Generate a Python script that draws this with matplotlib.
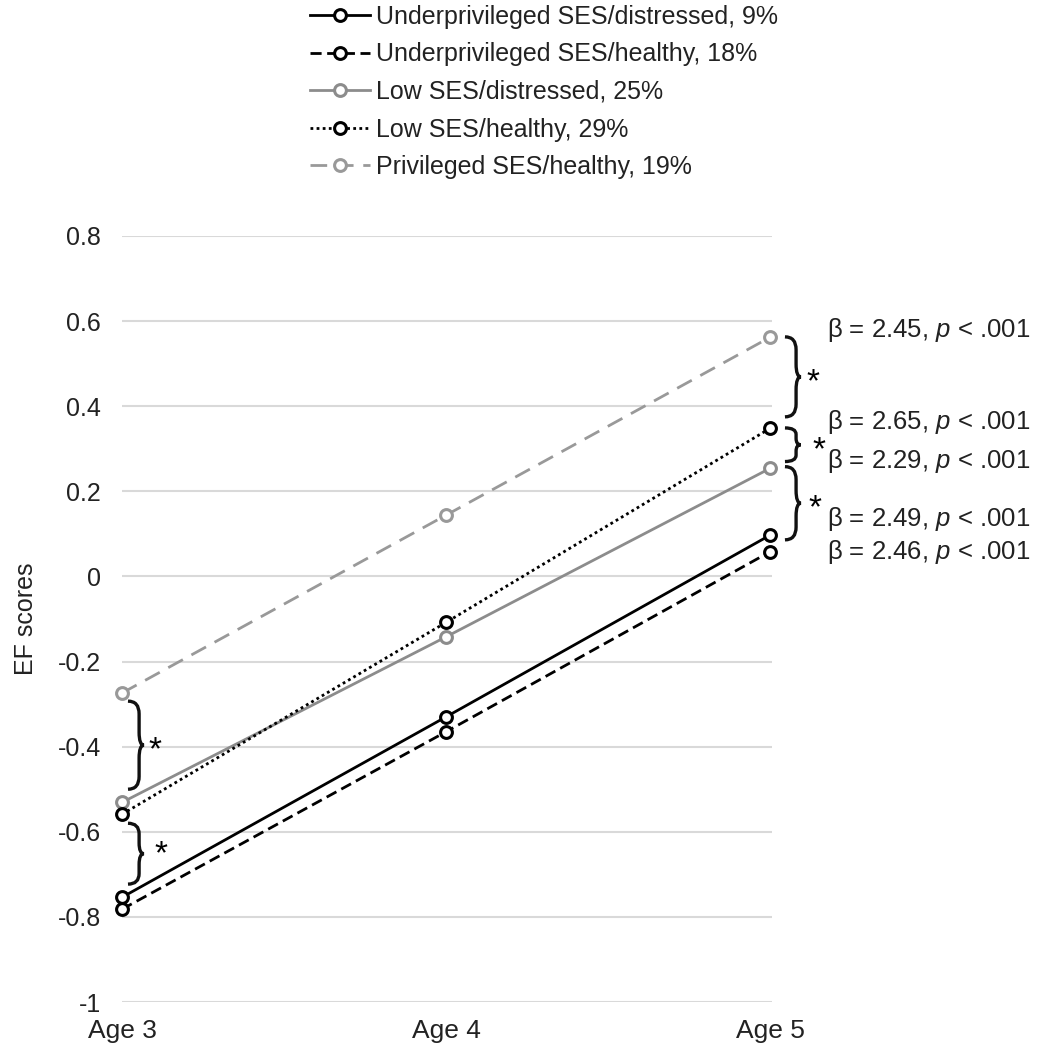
"""EF scores by SES/distress group across ages 3-5."""
import matplotlib
matplotlib.use("Agg")
import matplotlib.pyplot as plt
from matplotlib.path import Path
from matplotlib.patches import PathPatch

plt.rcParams["font.family"] = ["Liberation Sans", "DejaVu Sans"]
plt.rcParams["mathtext.fontset"] = "custom"
plt.rcParams["mathtext.rm"] = "Liberation Sans"
plt.rcParams["mathtext.it"] = "Liberation Sans:italic"

# Data
ages = ["Age 3", "Age 4", "Age 5"]
groups = [
    "Underprivileged SES/distressed, 9%",
    "Underprivileged SES/healthy, 18%",
    "Low SES/distressed, 25%",
    "Low SES/healthy, 29%",
    "Privileged SES/healthy, 19%",
]
under_distressed = [-0.754, -0.330, 0.097]
under_healthy = [-0.782, -0.365, 0.058]
low_distressed = [-0.531, -0.142, 0.254]
low_healthy = [-0.559, -0.108, 0.348]
privileged = [-0.274, 0.144, 0.562]

betas = ["2.45", "2.65", "2.29", "2.49", "2.46"]
beta_y = [0.58, 0.362, 0.271, 0.134, 0.058]

# styles
styles = [
    dict(color="black", ls="-"),
    dict(color="black", ls=(0, (4, 2))),
    dict(color="#8c8c8c", ls="-"),
    dict(color="black", ls=(0, (1, 1.2))),
    dict(color="#999999", ls=(0, (6, 3.5))),
]
series = [under_distressed, under_healthy, low_distressed, low_healthy, privileged]

fig = plt.figure(figsize=(10.39, 10.5), dpi=100)
ax = fig.add_axes([122 / 1039, 1 - 1002 / 1050, (772 - 122) / 1039, (1002 - 236) / 1050])

x = list(range(len(ages)))
for vals, name, st in zip(series, groups, styles):
    ax.plot(x, vals, color=st["color"], linestyle=st["ls"], linewidth=2,
            marker="o", markersize=8.5, markerfacecolor="white",
            markeredgecolor=st["color"], markeredgewidth=2.2, label=name,
            clip_on=False, zorder=3)

ax.set_xlim(0, 2.006)
ax.set_ylim(-1, 0.8)
ax.set_yticks([0.8, 0.6, 0.4, 0.2, 0, -0.2, -0.4, -0.6, -0.8, -1])
ax.set_yticklabels(["0.8", "0.6", "0.4", "0.2", "0", "-0.2", "-0.4", "-0.6", "-0.8", "-1"])
ax.set_xticks(x)
ax.set_xticklabels(ages)
ax.tick_params(axis="both", length=0, colors="#222222")
ax.tick_params(axis="y", pad=15, labelsize=18)
ax.tick_params(axis="x", pad=12, labelsize=19)
ax.grid(axis="y", color="#d9d9d9", linewidth=1.5)
ax.set_axisbelow(True)
for s in ax.spines.values():
    s.set_visible(False)
ax.set_ylabel("EF scores", fontsize=18, labelpad=14, color="#222222")


def brace(x0, y_top, y_bot, w=0.049, r=0.03):
    ym = (y_top + y_bot) / 2
    xm = x0 + w * 0.7
    verts = [
        (x0, y_top), (xm, y_top), (xm, y_top - r),
        (xm, ym + r), (xm, ym), (x0 + w, ym),
        (xm, ym), (xm, ym - r),
        (xm, y_bot + r), (xm, y_bot), (x0, y_bot),
    ]
    codes = [Path.MOVETO, Path.CURVE3, Path.CURVE3,
             Path.LINETO, Path.CURVE3, Path.CURVE3,
             Path.CURVE3, Path.CURVE3,
             Path.LINETO, Path.CURVE3, Path.CURVE3]
    ax.add_patch(PathPatch(Path(verts, codes), fill=False, lw=2.4,
                           edgecolor="#111111", clip_on=False))


star = dict(fontsize=24, ha="center", va="center", clip_on=False)

# left braces
brace(0.0185, -0.293, -0.500)
ax.text(0.102, -0.41, "*", **star)
brace(0.0185, -0.580, -0.723, r=0.025)
ax.text(0.120, -0.655, "*", **star)

# right braces
brace(2.046, 0.563, 0.375)
ax.text(2.133, 0.455, "*", **star)
brace(2.046, 0.349, 0.270, r=0.015)
ax.text(2.150, 0.295, "*", **star)
brace(2.046, 0.258, 0.086)
ax.text(2.139, 0.158, "*", **star)

for b, yy in zip(betas, beta_y):
    ax.text(2.177, yy, "\u03b2 = " + b + ", $p$ < .001", fontsize=18.5,
            ha="left", va="center", clip_on=False, color="#222222")

fig.legend(loc="upper left", bbox_to_anchor=(0.294, 1.0), frameon=False,
           fontsize=18, handlelength=2.4, handletextpad=0.24,
           labelspacing=0.54, borderaxespad=0, borderpad=0.2,
           labelcolor="#222222")

fig.savefig("out.png", dpi=100)
